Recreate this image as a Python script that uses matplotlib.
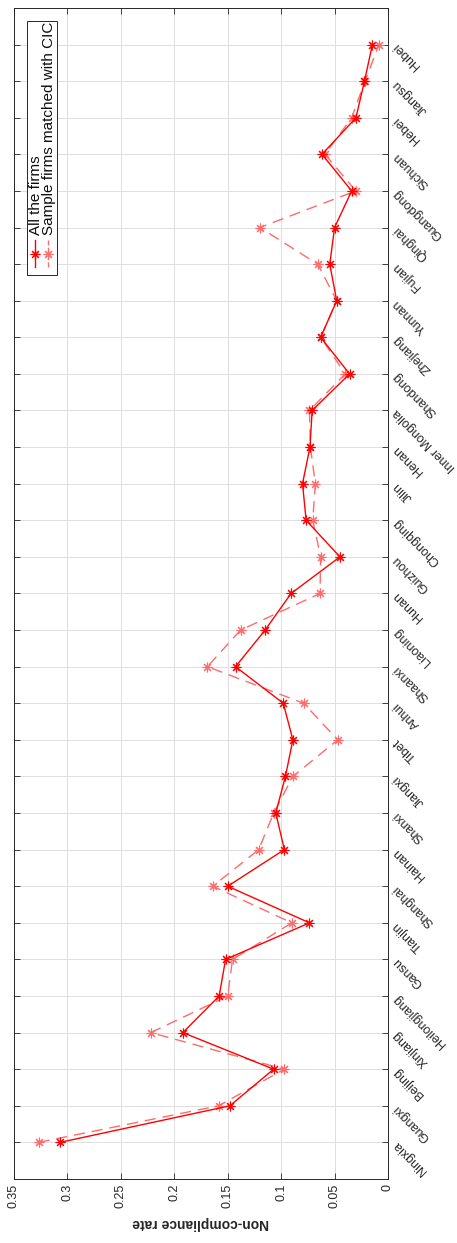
import matplotlib
matplotlib.use("Agg")
import matplotlib.pyplot as plt
import matplotlib.ticker as mticker
from matplotlib.patches import Rectangle

plt.rcParams["font.family"] = ["Liberation Sans", "DejaVu Sans"]

provinces = ["Ningxia", "Guangxi", "Beijing", "Xinjiang", "Heilongjiang", "Gansu",
             "Tianjin", "Shanghai", "Hainan", "Shanxi", "Jiangxi", "Tibet", "Anhui",
             "Shaanxi", "Liaoning", "Hunan", "Guizhou", "Chongqing", "Jilin", "Henan",
             "Inner Mongolia", "Shandong", "Zhejiang", "Yunnan", "Fujian", "Qinghai",
             "Guangdong", "Sichuan", "Hebei", "Jiangsu", "Hubei"]
all_firms = [0.307, 0.148, 0.107, 0.192, 0.158, 0.152, 0.0735, 0.150, 0.097, 0.105,
             0.096, 0.089, 0.098, 0.1427, 0.115, 0.0907, 0.045, 0.0766, 0.080, 0.073,
             0.071, 0.036, 0.063, 0.048, 0.0545, 0.050, 0.034, 0.0617, 0.030, 0.022,
             0.0146]
sample_cic = [0.327, 0.1585, 0.097, 0.222, 0.150, 0.1455, 0.090, 0.164, 0.121, 0.107,
              0.089, 0.047, 0.079, 0.169, 0.138, 0.0636, 0.063, 0.0704, 0.068, 0.0726,
              0.0735, 0.040, 0.063, 0.048, 0.0657, 0.120, 0.030, 0.059, 0.034, 0.0215,
              0.0084]
rate_ticks = [0, 0.05, 0.1, 0.15, 0.2, 0.25, 0.3, 0.35]

RED = (1.0, 0.0, 0.0)
LIGHT_RED = (1.0, 0.42, 0.42)
EDGE = "0.15"
STAR = (8, 2, 0)

fig = plt.figure(figsize=(4.57, 12.43), dpi=100)
ax = fig.add_axes([0.0306, 0.0515, 0.8184, 0.9421])

pos = list(range(1, len(provinces) + 1))
ax.plot(sample_cic, pos, color=LIGHT_RED, lw=1.0, ls=(0, (8, 5)), marker=STAR,
        ms=7, mew=0.8, zorder=3)
ax.plot(all_firms, pos, color=RED, lw=1.0, marker=STAR, ms=7, mew=0.8, zorder=4)

ax.set_xlim(0.35, 0)
ax.set_ylim(0, len(provinces) + 1)
ax.set_xticks(rate_ticks)
ax.xaxis.set_major_formatter(mticker.FuncFormatter(lambda v, _: f"{v:g}"))
ax.set_yticks(pos)
ax.set_yticklabels(provinces)

ax.grid(True, color="0.87", lw=0.7)
ax.set_axisbelow(True)
for s in ax.spines.values():
    s.set_color(EDGE)
    s.set_linewidth(0.7)

ax.tick_params(direction="in", top=True, bottom=True, left=True, right=True,
               labelleft=False, labelright=True, length=4, width=0.6, color=EDGE,
               labelcolor="0.15", labelsize=9)
ax.tick_params(axis="y", pad=5)
for lbl in ax.get_xticklabels():
    lbl.set_rotation(90)
for lbl in ax.get_yticklabels():
    lbl.set_rotation(135)
    lbl.set_rotation_mode("anchor")
    lbl.set_ha("right")
    lbl.set_va("center")

ax.set_xlabel("Non-compliance rate", fontsize=10, fontweight="bold", rotation=180,
              color="0.15", labelpad=6)

# legend drawn by hand, rotated with the rest of the chart
ax.add_patch(Rectangle((0.0348, 0.772), 0.0802, 0.2169, transform=ax.transAxes,
                       facecolor="white", edgecolor=EDGE, lw=0.7, zorder=5))
for xc, col, style, txt in [(0.057, RED, "-", "All the firms"),
                            (0.091, LIGHT_RED, "--", "Sample firms matched with CIC")]:
    ax.plot([xc, xc], [0.7785, 0.8015], transform=ax.transAxes, color=col, ls=style,
            lw=1.0, zorder=6, clip_on=False)
    ax.plot([xc], [0.790], transform=ax.transAxes, color=col, marker=STAR, ms=7,
            mew=0.8, zorder=6, clip_on=False)
    ax.text(xc + 0.003, 0.806, txt, transform=ax.transAxes, rotation=90, ha="center",
            va="bottom", fontsize=11, color="0.05", zorder=6)

fig.savefig("out.png", dpi=100, facecolor="white")
